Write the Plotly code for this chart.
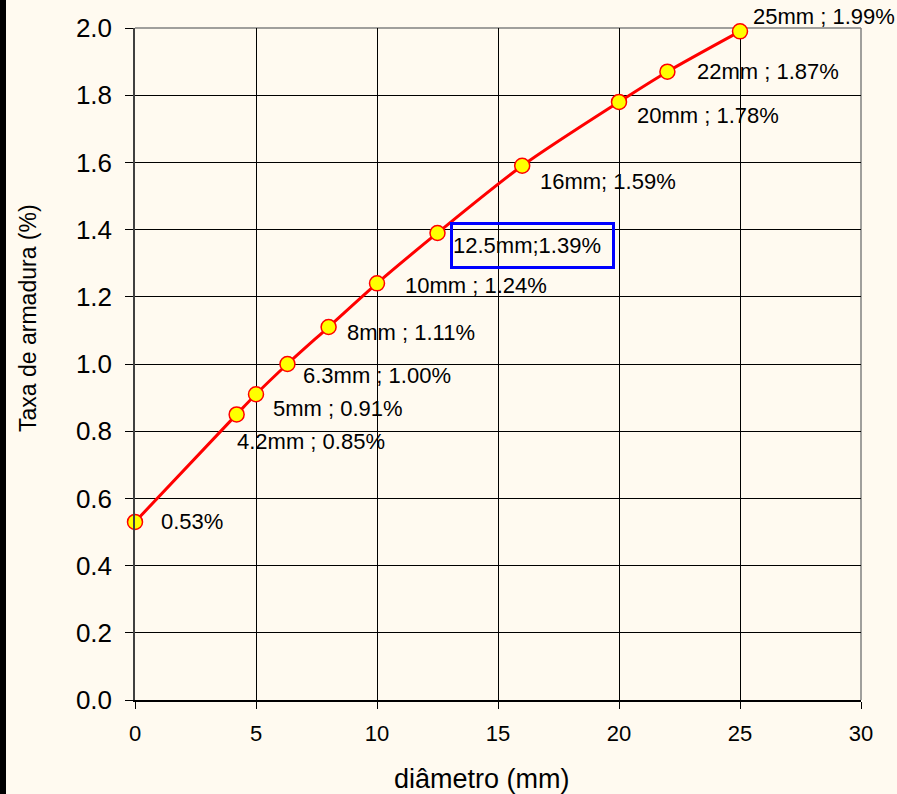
import plotly.graph_objects as go

# Bar diameter (mm) vs. reinforcement ratio (%)
diametro = [0, 4.2, 5, 6.3, 8, 10, 12.5, 16, 20, 22, 25]
taxa = [0.53, 0.85, 0.91, 1.00, 1.11, 1.24, 1.39, 1.59, 1.78, 1.87, 1.99]
rotulos = ["0.53%", "4.2mm ; 0.85%", "5mm ; 0.91%", "6.3mm ; 1.00%", "8mm ; 1.11%",
           "10mm ; 1.24%", "12.5mm;1.39%", "16mm; 1.59%", "20mm ; 1.78%",
           "22mm ; 1.87%", "25mm ; 1.99%"]
destaque = "12.5mm;1.39%"

# label offsets in pixels (dx, dy) relative to each point
offsets = [(24, 0), (-2, -27), (15, -14), (14, -11), (16, -5), (26, -2),
           (12, -13), (16, -16), (16, -14), (28, 0), (11, 15)]

y_ticks = [0.0, 0.2, 0.4, 0.6, 0.8, 1.0, 1.2, 1.4, 1.6, 1.8, 2.0]
x_ticks = [0, 5, 10, 15, 20, 25, 30]

BG = "#FFFAF0"
FONT = "Liberation Sans, Arial, sans-serif"

fig = go.Figure()
fig.add_trace(go.Scatter(
    x=diametro, y=taxa, mode="lines+markers",
    line=dict(color="#FF0000", width=3, shape="spline", smoothing=0.8),
    marker=dict(size=15, color="#FFFF00", line=dict(color="#FF0000", width=1.5)),
    cliponaxis=False, showlegend=False, hoverinfo="x+y",
))

annotations = []
for xv, yv, txt, (dx, dy) in zip(diametro, taxa, rotulos, offsets):
    a = dict(x=xv, y=yv, xref="x", yref="y", text=txt, showarrow=False,
             xanchor="left", yanchor="middle", xshift=dx, yshift=dy,
             font=dict(family=FONT, size=22, color="#000000"))
    if txt == destaque:
        a.update(bordercolor="#0000FF", borderwidth=3, borderpad=0,
                 width=159, height=41, align="left", bgcolor="rgba(0,0,0,0)")
    annotations.append(a)

# axis titles
annotations.append(dict(x=-0.1474, y=0.5685, xref="paper", yref="paper",
                        text="Taxa de armadura (%)", textangle=-90, showarrow=False,
                        xanchor="center", yanchor="middle",
                        font=dict(family=FONT, size=23, color="#000000")))
annotations.append(dict(x=0.478, y=-0.1176, xref="paper", yref="paper",
                        text="diâmetro (mm)", showarrow=False,
                        xanchor="center", yanchor="middle",
                        font=dict(family=FONT, size=27, color="#000000")))

shapes = [
    # dark strip on the left edge of the page
    dict(type="rect", xref="paper", yref="paper", x0=-135 / 726, x1=-129 / 726,
         y0=-94 / 672 - 0.01, y1=1 + 28 / 672 + 0.01, fillcolor="#000000",
         line=dict(width=0), layer="below"),
    # grey frame on top and right
    dict(type="line", xref="paper", yref="paper", x0=0, x1=1, y0=1, y1=1,
         line=dict(color="#808080", width=1.5), layer="below"),
    dict(type="line", xref="paper", yref="paper", x0=1, x1=1, y0=0, y1=1,
         line=dict(color="#808080", width=1.5), layer="below"),
]

fig.update_layout(
    width=897, height=794,
    margin=dict(l=135, r=36, t=28, b=94),
    paper_bgcolor=BG, plot_bgcolor=BG,
    font=dict(family=FONT, color="#000000"),
    annotations=annotations, shapes=shapes,
    xaxis=dict(range=[0, 30], tickvals=x_ticks, ticktext=[str(v) for v in x_ticks],
               showgrid=True, gridcolor="#000000", gridwidth=1, zeroline=False,
               showline=True, linecolor="#000000", linewidth=1.5,
               ticks="outside", ticklen=7, tickcolor="#000000", tickwidth=1,
               tickfont=dict(family=FONT, size=22, color="#000000"),
               ticklabelstandoff=6),
    yaxis=dict(range=[0, 2], tickvals=y_ticks, ticktext=[f"{v:.1f}" for v in y_ticks],
               showgrid=True, gridcolor="#000000", gridwidth=1, zeroline=False,
               showline=True, linecolor="#404040", linewidth=1.5,
               ticks="outside", ticklen=8, tickcolor="#000000", tickwidth=1,
               tickfont=dict(family=FONT, size=26, color="#000000"),
               ticklabelstandoff=8),
)

fig.write_html("out.html")
